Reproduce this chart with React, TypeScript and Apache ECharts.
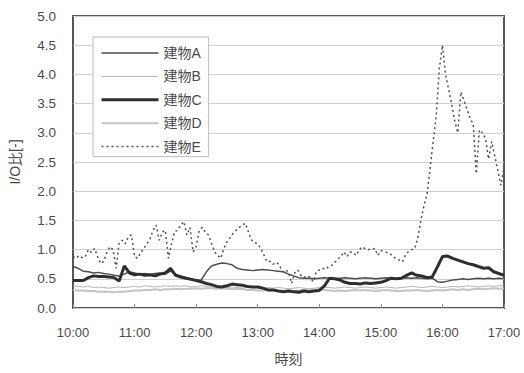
import React, { useEffect, useRef } from "react";
import * as echarts from "echarts";

// Time axis: minutes after 10:00
const startHour = 10;
const stepAD = 5; // minutes between samples for 建物A–D
const stepE = 3; // minutes between samples for 建物E
const seriesNames = ["建物A", "建物B", "建物C", "建物D", "建物E"];
const yTicks = [0, 0.5, 1, 1.5, 2, 2.5, 3, 3.5, 4, 4.5, 5];
const xTickHours = ["10:00", "11:00", "12:00", "13:00", "14:00", "15:00", "16:00", "17:00"];

const valuesA = [
  0.71, 0.68, 0.63, 0.62, 0.60, 0.61, 0.59, 0.58, 0.56, 0.55, 0.58,
  0.62, 0.60, 0.58, 0.59, 0.57, 0.59, 0.60, 0.58, 0.63, 0.58,
  0.55, 0.52, 0.50, 0.47, 0.48, 0.62, 0.72, 0.75, 0.77, 0.76,
  0.74, 0.68, 0.66, 0.65, 0.64, 0.65, 0.66, 0.65, 0.64, 0.63,
  0.62, 0.58, 0.55, 0.52, 0.51, 0.51, 0.50, 0.51, 0.52, 0.51,
  0.50, 0.51, 0.52, 0.51, 0.50, 0.51, 0.52, 0.51, 0.50, 0.51,
  0.52, 0.51, 0.50, 0.51, 0.52, 0.51, 0.52, 0.51, 0.50, 0.51,
  0.45, 0.44, 0.46, 0.48, 0.49, 0.50, 0.49, 0.50, 0.51, 0.50,
  0.51, 0.50, 0.51, 0.50,
];

const valuesB = [
  0.38, 0.37, 0.36, 0.37, 0.35, 0.36, 0.35, 0.34, 0.35, 0.36, 0.35,
  0.36, 0.37, 0.36, 0.38, 0.37, 0.36, 0.37, 0.38, 0.37, 0.38,
  0.37, 0.38, 0.36, 0.37, 0.38, 0.37, 0.36, 0.35, 0.36, 0.35,
  0.36, 0.35, 0.34, 0.35, 0.36, 0.35, 0.34, 0.35, 0.34, 0.35,
  0.34, 0.33, 0.34, 0.35, 0.34, 0.33, 0.34, 0.35, 0.36, 0.35,
  0.34, 0.35, 0.36, 0.35, 0.34, 0.35, 0.36, 0.35, 0.34, 0.35,
  0.36, 0.35, 0.34, 0.35, 0.36, 0.37, 0.36, 0.35, 0.36, 0.37,
  0.36, 0.35, 0.36, 0.37, 0.36, 0.37, 0.38, 0.37, 0.36, 0.37,
  0.38, 0.37, 0.38, 0.39,
];

const valuesC = [
  0.47, 0.47, 0.47, 0.52, 0.55, 0.54, 0.54, 0.53, 0.52, 0.46, 0.72,
  0.60, 0.57, 0.58, 0.56, 0.57, 0.55, 0.58, 0.60, 0.68, 0.56,
  0.53, 0.51, 0.49, 0.47, 0.45, 0.42, 0.40, 0.37, 0.36, 0.38,
  0.41, 0.40, 0.39, 0.37, 0.36, 0.36, 0.34, 0.31, 0.31, 0.29,
  0.28, 0.29, 0.28, 0.27, 0.29, 0.28, 0.29, 0.30, 0.38, 0.51,
  0.50, 0.48, 0.44, 0.42, 0.42, 0.41, 0.43, 0.42, 0.43, 0.44,
  0.47, 0.51, 0.50, 0.51, 0.56, 0.60, 0.56, 0.55, 0.52, 0.53,
  0.70, 0.88, 0.89, 0.85, 0.82, 0.79, 0.76, 0.74, 0.71, 0.68,
  0.69, 0.62, 0.59, 0.56,
];

const valuesD = [
  0.31, 0.30, 0.30, 0.29, 0.29, 0.28, 0.28, 0.28, 0.27, 0.28, 0.28,
  0.29, 0.30, 0.30, 0.31, 0.31, 0.32, 0.31, 0.32, 0.32, 0.33,
  0.32, 0.33, 0.33, 0.34, 0.33, 0.34, 0.34, 0.33, 0.34, 0.33,
  0.32, 0.33, 0.32, 0.31, 0.31, 0.30, 0.30, 0.31, 0.30, 0.29,
  0.29, 0.30, 0.29, 0.30, 0.31, 0.30, 0.31, 0.32, 0.31, 0.30,
  0.29, 0.30, 0.29, 0.30, 0.31, 0.30, 0.31, 0.30, 0.29, 0.30,
  0.31, 0.30, 0.29, 0.29, 0.30, 0.30, 0.31, 0.30, 0.29, 0.30,
  0.31, 0.30, 0.31, 0.32, 0.31, 0.32, 0.31, 0.32, 0.33, 0.32,
  0.33, 0.34, 0.33, 0.34,
];

const valuesE = [
  0.88, 0.85, 0.90, 0.86, 0.88, 1.00, 0.95, 1.02, 0.88, 0.76,
  0.80, 0.95, 1.05, 1.00, 0.68, 1.12, 1.16, 1.10, 1.22, 1.25,
  0.88, 0.85, 0.95, 1.02, 1.10, 1.18, 1.33, 1.42, 1.16, 1.30,
  1.33, 0.85, 1.10, 1.31, 1.33, 1.42, 1.48, 1.25, 1.38, 0.96,
  1.05, 1.33, 1.38, 1.30, 1.25, 1.11, 0.96, 0.90, 0.85, 1.02,
  1.13, 1.20, 1.28, 1.33, 1.38, 1.42, 1.45, 1.30, 1.16, 1.12,
  1.10, 1.02, 0.91, 0.79, 0.80, 0.75, 0.78, 0.74, 0.62, 0.65,
  0.62, 0.42, 0.60, 0.65, 0.56, 0.52, 0.55, 0.53, 0.45, 0.62,
  0.65, 0.68, 0.66, 0.71, 0.73, 0.78, 0.84, 0.88, 0.96, 0.88,
  0.96, 0.95, 0.90, 1.00, 1.05, 1.01, 1.00, 1.00, 1.02, 0.90,
  0.98, 0.97, 0.95, 0.93, 0.88, 0.84, 0.82, 0.79, 0.91, 0.97,
  1.00, 1.02, 1.20, 1.50, 1.75, 1.95, 2.40, 2.85, 3.30, 4.10,
  4.50, 4.00, 3.75, 3.50, 3.20, 3.00, 3.70, 3.55, 3.40, 3.25,
  3.15, 2.30, 3.05, 3.00, 2.90, 2.55, 2.85, 2.60, 2.35, 2.10,
  2.40,
];

const toPairs = (vals: number[], step: number) => vals.map((v, i) => [i * step, v]);

const FONT = "'Liberation Sans', Arial, 'Noto Sans CJK JP', sans-serif";
const TEXT = "#4a4a4a";

export default function App() {
  const ref = useRef<HTMLDivElement>(null);
  useEffect(() => {
    if (!ref.current) return;
    const chart = echarts.init(ref.current, null, { renderer: "svg" });
    const styles = [
      { color: "#4d4d4d", width: 1.5, type: "solid" as any },
      { color: "#b4b4b4", width: 1, type: "solid" as any },
      { color: "#2e2e2e", width: 3, type: "solid" as any },
      { color: "#c4c4c4", width: 2, type: "solid" as any },
      { color: "#505050", width: 1.5, type: [2, 3] as any },
    ];
    const datas = [
      toPairs(valuesA, stepAD),
      toPairs(valuesB, stepAD),
      toPairs(valuesC, stepAD),
      toPairs(valuesD, stepAD),
      toPairs(valuesE, stepE),
    ];
    const zs = [3, 2, 4, 1, 5];
    chart.setOption({
      animation: false,
      backgroundColor: "#ffffff",
      textStyle: { fontFamily: FONT, color: TEXT },
      grid: {
        left: 73,
        right: 20,
        top: 16,
        bottom: 65,
        show: true,
        borderColor: "#555555",
        borderWidth: 2,
        backgroundColor: "#ffffff",
      },
      legend: {
        orient: "vertical",
        left: 93,
        top: 37,
        data: seriesNames.map((name, i) => ({
          name,
          lineStyle: { width: styles[i].width, color: styles[i].color, type: styles[i].type },
        })),
        itemWidth: 57,
        itemHeight: 14,
        itemGap: 9.4,
        padding: [9, 7, 3, 7],
        backgroundColor: "#ffffff",
        borderColor: "#bdbdbd",
        borderWidth: 1,
        itemStyle: { opacity: 0 },
        textStyle: { fontFamily: FONT, fontSize: 14, color: TEXT },
      },
      xAxis: {
        type: "value",
        min: 0,
        max: (xTickHours.length - 1) * 60,
        interval: 60,
        name: "時刻",
        nameLocation: "middle",
        nameGap: 44,
        nameTextStyle: { fontFamily: FONT, fontSize: 14, color: TEXT },
        axisLine: { show: false },
        axisTick: { show: true, inside: true, length: 4, lineStyle: { color: "#888" } },
        splitLine: { show: false },
        axisLabel: {
          fontSize: 13,
          color: TEXT,
          margin: 18,
          formatter: (v: number) => xTickHours[Math.round(v / 60)] ?? `${startHour + v / 60}:00`,
        },
      },
      yAxis: {
        type: "value",
        min: yTicks[0],
        max: yTicks[yTicks.length - 1],
        interval: 0.5,
        name: "I/O比[-]",
        nameLocation: "middle",
        nameGap: 51,
        nameRotate: 90,
        nameTextStyle: { fontFamily: FONT, fontSize: 14, color: TEXT },
        axisLine: { show: false },
        axisTick: { show: false },
        splitLine: { show: true, lineStyle: { color: "#cfcfcf", width: 1 } },
        axisLabel: {
          fontSize: 13.5,
          color: TEXT,
          margin: 17,
          formatter: (v: number) => v.toFixed(1),
        },
      },
      series: seriesNames.map((name, i) => ({
        name,
        type: "line",
        data: datas[i],
        showSymbol: false,
        symbol: "none",
        z: zs[i],
        lineStyle: styles[i],
        itemStyle: { color: styles[i].color },
      })),
    });
    return () => chart.dispose();
  }, []);
  return (
    <div
      ref={ref}
      style={{ position: "fixed", left: 0, top: 0, width: 524, height: 373, background: "#fff" }}
    />
  );
}
